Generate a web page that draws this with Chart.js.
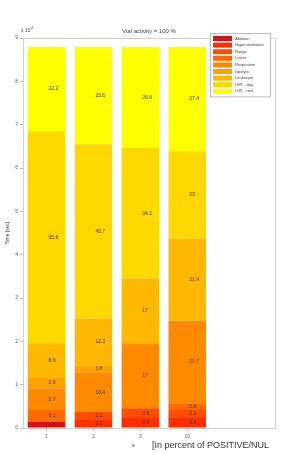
<!DOCTYPE html>
<html>
<head>
<meta charset="utf-8">
<script src="https://cdn.jsdelivr.net/npm/chart.js@4.4.0/dist/chart.umd.min.js"></script>
<style>
	body { margin: 0; background: #fff; }
	#wrap { position: relative; width: 285px; height: 454px; }
	#nota { position: absolute; left: 152px; top: 440px; font: 9px "Liberation Sans", Arial, sans-serif; color: #333; white-space: nowrap; }
</style>
</head>
<body>
<div id="wrap">
	<canvas id="grafica" width="285" height="454"></canvas>
	<div id="nota">[In percent of POSITIVE/NUL</div>
</div>
<script>

// Categorias (eje x) y posiciones
const categorias = ['1', '2', '3', '10'];
const posiciones = [1, 2, 3, 4];

// Tiempo total de cada barra (x 10^4 sec)
const totales = [8.8, 8.8, 8.8, 8.8];

// Ticks del eje y
const ticksY = [0, 1, 2, 3, 4, 5, 6, 7, 8, 9];

// Series (en porcentaje de cada barra), de abajo hacia arriba
const nombres = ['Ablation', 'Hyperventilation', 'Range', 'Latent', 'Respiration', 'Lipolytic', 'Leukocyte', 'LMT - day', 'LMT - rest'];
const colores = ['#d41414', '#ff2e00', '#ff4c00', '#ff6a00', '#ff8a00', '#ffa200', '#ffb800', '#ffd800', '#ffff00'];

const s1 = [1.6, 0, 0, 0];
const s2 = [0, 2.1, 2.6, 2.6];
const s3 = [0, 2.1, 2.6, 2.1];
const s4 = [3.1, 0, 0, 1.8];
const s5 = [5.7, 10.4, 17.0, 21.7];
const s6 = [2.9, 1.8, 0, 0];
const s7 = [8.9, 12.3, 17.0, 21.4];
const s8 = [55.6, 45.7, 34.2, 23.0];
const s9 = [22.2, 25.6, 26.6, 27.4];
const series = [s1, s2, s3, s4, s5, s6, s7, s8, s9];

const fuente = '"Liberation Sans", Arial, sans-serif';

// Armar datasets
let datasets = series.map(function(s, i){
	return {
		label: nombres[i],
		data: s.map(function(p, j){ return { x: posiciones[j], y: p / 100 * totales[j], pct: p }; }),
		backgroundColor: colores[i],
		borderWidth: 0,
		barPercentage: 0.8,
		categoryPercentage: 1
	};
});

// Textos extra: titulo, exponente, etiquetas de las barras, caja y leyenda
const extras = {
	id: 'extras',
	afterDatasetsDraw: function(chart){
		let ctx = chart.ctx;
		let area = chart.chartArea;
		ctx.save();

		// Caja de los ejes
		ctx.strokeStyle = '#d0d0d0';
		ctx.lineWidth = 1;
		ctx.strokeRect(area.left + 0.5, area.top + 0.5, area.right - area.left, area.bottom - area.top);

		// Etiquetas de porcentaje
		ctx.fillStyle = '#333';
		ctx.font = '5px ' + fuente;
		ctx.textAlign = 'left';
		ctx.textBaseline = 'middle';
		chart.data.datasets.forEach(function(ds, i){
			let meta = chart.getDatasetMeta(i);
			meta.data.forEach(function(bar, j){
				let p = ds.data[j].pct;
				if(!p) return;
				let texto = Number(p.toFixed(2)).toString();
				ctx.fillText(texto, bar.x + 2, (bar.y + bar.base) / 2);
			});
		});

		// Titulo
		ctx.fillStyle = '#444';
		ctx.font = '6px ' + fuente;
		ctx.textAlign = 'center';
		ctx.textBaseline = 'bottom';
		ctx.fillText('Vial activity = 100 %', (area.left + area.right) / 2, area.top - 4);

		// Exponente
		ctx.textAlign = 'left';
		ctx.font = '5px ' + fuente;
		ctx.fillText('x 10', area.left - 2, area.top - 5);
		ctx.font = '4px ' + fuente;
		ctx.fillText('4', area.left + 8, area.top - 8);

		// Etiqueta eje x
		ctx.font = '6px ' + fuente;
		ctx.textAlign = 'center';
		ctx.textBaseline = 'top';
		ctx.fillText('s', chart.scales.x.getPixelForValue(2.85), area.bottom + 14);

		// Leyenda
		let lx = 210, ly = 33, lw = 60, fila = 6.6;
		ctx.fillStyle = '#fff';
		ctx.fillRect(lx, ly, lw, fila * nombres.length + 4);
		ctx.strokeStyle = '#bbb';
		ctx.strokeRect(lx + 0.5, ly + 0.5, lw, fila * nombres.length + 4);
		ctx.font = '4px ' + fuente;
		ctx.textAlign = 'left';
		ctx.textBaseline = 'middle';
		chart.data.datasets.forEach(function(ds, i){
			let y = ly + 3 + i * fila;
			ctx.fillStyle = ds.backgroundColor;
			ctx.fillRect(lx + 3, y, 19, 5);
			ctx.fillStyle = '#444';
			ctx.fillText(ds.label, lx + 25, y + 2.5);
		});

		ctx.restore();
	}
};

let grafica = new Chart(document.getElementById('grafica').getContext('2d'), {
	type: 'bar',
	data: { datasets: datasets },
	options: {
		responsive: false,
		animation: false,
		layout: { padding: { top: 38, right: 10, left: 4, bottom: 0 } },
		plugins: {
			legend: { display: false },
			tooltip: { enabled: false }
		},
		scales: {
			x: {
				type: 'linear',
				stacked: true,
				offset: false,
				min: 0.5,
				max: 5.87,
				afterBuildTicks: function(scale){
					scale.ticks = posiciones.map(function(v){ return { value: v }; });
				},
				afterFit: function(scale){ scale.height = 26; },
				ticks: {
					color: '#555',
					font: { size: 5, family: fuente },
					padding: 3,
					callback: function(v){
						let i = posiciones.indexOf(v);
						return i >= 0 ? categorias[i] : '';
					}
				},
				grid: { drawOnChartArea: false, offset: false, tickLength: 3, color: '#bbb' },
				border: { color: '#bbb' }
			},
			y: {
				stacked: true,
				min: 0,
				max: 9,
				afterBuildTicks: function(scale){
					scale.ticks = ticksY.map(function(v){ return { value: v }; });
				},
				afterFit: function(scale){ scale.width = 19; },
				title: {
					display: true,
					text: 'Time [sec]',
					color: '#444',
					font: { size: 5, family: fuente },
					padding: 1
				},
				ticks: {
					color: '#555',
					font: { size: 5, family: fuente },
					padding: 2
				},
				grid: { drawOnChartArea: false, tickLength: 3, color: '#bbb' },
				border: { color: '#bbb' }
			}
		}
	},
	plugins: [extras]
});

</script>
</body>
</html>
